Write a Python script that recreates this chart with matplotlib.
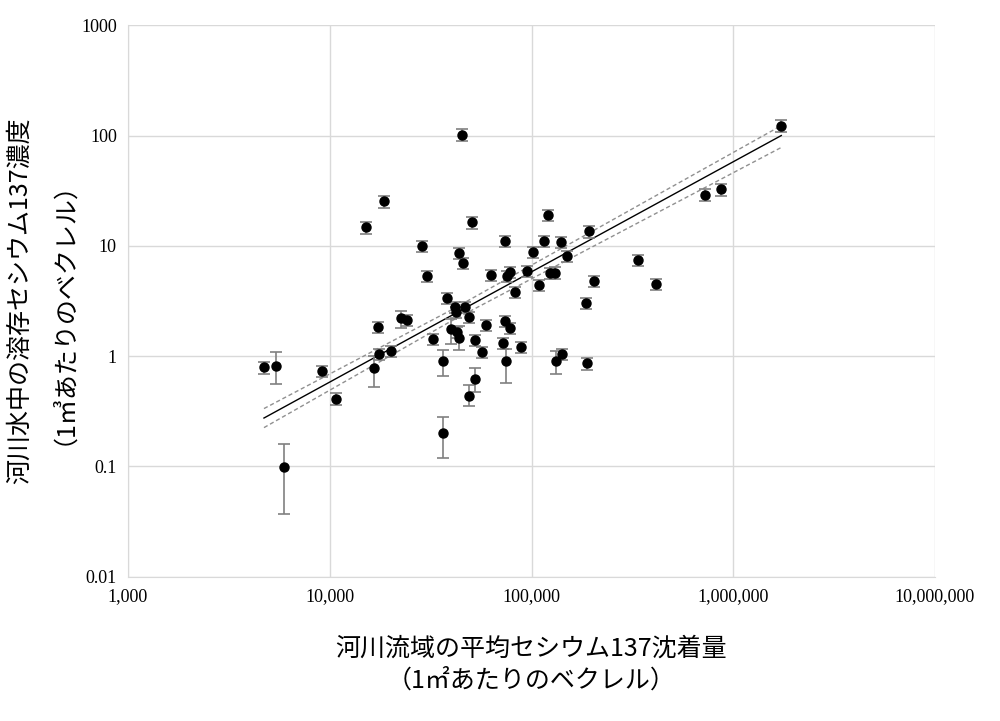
import numpy as np
import matplotlib.pyplot as plt
from matplotlib.ticker import FuncFormatter, LogLocator, NullLocator

plt.rcParams['font.family'] = ['Liberation Serif', 'DejaVu Serif']
JP = ['Noto Sans CJK JP', 'DejaVu Sans']

# deposition (Bq/m2) and dissolved Cs-137 (Bq/m3)
dep = [4720, 5420, 5930, 9160, 10700, 15100, 18600, 16600, 17400, 17600,
       20100, 22600, 24200, 28700, 30400, 32500, 36500, 36500, 38200, 39900,
       41800, 42300, 42800, 43800, 43800, 45300, 45800, 46900, 49100, 49100,
       50700, 52500, 52500, 56900, 59600, 63100, 72300, 74000, 74000, 74800,
       75700, 78300, 78300, 83000, 88800, 95100, 102000, 109000, 115000, 121000,
       124000, 131000, 132000, 140000, 142000, 150000, 187000, 189000, 193000, 204000,
       337000, 415000, 726000, 871000, 1730000]
conc = [0.79, 0.81, 0.099, 0.73, 0.41, 14.7, 25.3, 0.78, 1.83, 1.04,
        1.11, 2.21, 2.12, 9.9, 5.3, 1.43, 0.90, 0.20, 3.35, 1.75,
        2.78, 2.50, 1.65, 1.46, 8.55, 102, 6.95, 2.78, 0.44, 2.25,
        16.3, 1.40, 0.62, 1.09, 1.91, 5.41, 1.31, 2.07, 11.0, 0.90,
        5.3, 1.79, 5.75, 3.79, 1.21, 5.88, 8.73, 4.39, 11.0, 18.9,
        5.64, 5.70, 0.90, 10.8, 1.04, 8.03, 3.02, 0.86, 13.5, 4.77,
        7.39, 4.48, 29.2, 32.5, 123]
# error bar ends where they are wider than the usual ~12%
err_ends = {1: (0.56, 1.08), 2: (0.037, 0.16), 7: (0.53, 1.0), 11: (1.8, 2.56),
            16: (0.66, 1.13), 17: (0.12, 0.28), 19: (1.28, 2.16), 23: (1.13, 1.87),
            28: (0.35, 0.55), 32: (0.47, 0.78), 39: (0.57, 1.17), 52: (0.69, 1.12)}

# regression line and confidence band
fit_x = [4720, 40000, 1730000]
fit_y = [0.275, 2.33, 100]
band_lo = [0.225, 2.08, 78]
band_hi = [0.335, 2.62, 123]

conc = np.array(conc)
lo = conc * 0.12
hi = conc * 0.12
for i, (a, b) in err_ends.items():
    lo[i] = conc[i] - a
    hi[i] = b - conc[i]

fig = plt.figure(figsize=(10, 7.21), dpi=100)
ax = fig.add_axes([0.128, 0.2, 0.807, 0.765])

ax.errorbar(dep, conc, yerr=[lo, hi], fmt='o', color='black', ms=6.5,
            ecolor='#808080', elinewidth=1.2, capsize=4, capthick=1.2, zorder=3)
ax.plot(fit_x, fit_y, color='black', lw=1, zorder=2)
ax.plot(fit_x, band_lo, color='#909090', lw=1, ls=(0, (3, 2)), zorder=2)
ax.plot(fit_x, band_hi, color='#909090', lw=1, ls=(0, (3, 2)), zorder=2)

ax.set_xscale('log')
ax.set_yscale('log')
ax.set_xlim(1000, 1e7)
ax.set_ylim(0.01, 1000)
ax.xaxis.set_major_locator(LogLocator(base=10, numticks=10))
ax.yaxis.set_major_locator(LogLocator(base=10, numticks=10))
ax.xaxis.set_minor_locator(NullLocator())
ax.yaxis.set_minor_locator(NullLocator())
ax.xaxis.set_major_formatter(FuncFormatter(lambda v, p: f'{v:,.0f}'))
ax.yaxis.set_major_formatter(FuncFormatter(lambda v, p: f'{v:g}'))
ax.grid(True, color='#d9d9d9', lw=1)
ax.set_axisbelow(True)
for s in ['top', 'right']:
    ax.spines[s].set_visible(False)
for s in ['left', 'bottom']:
    ax.spines[s].set_color('#d9d9d9')
ax.tick_params(length=0, labelsize=13, pad=8)

ax.set_xlabel('河川流域の平均セシウム137沈着量\n（1㎡あたりのベクレル）',
              family=JP, fontsize=18, labelpad=22, linespacing=1.3)
ax.set_ylabel('河川水中の溶存セシウム137濃度\n（1㎥あたりのベクレル）',
              family=JP, fontsize=18, labelpad=12, linespacing=1.3)

fig.savefig('out.png', dpi=100)
